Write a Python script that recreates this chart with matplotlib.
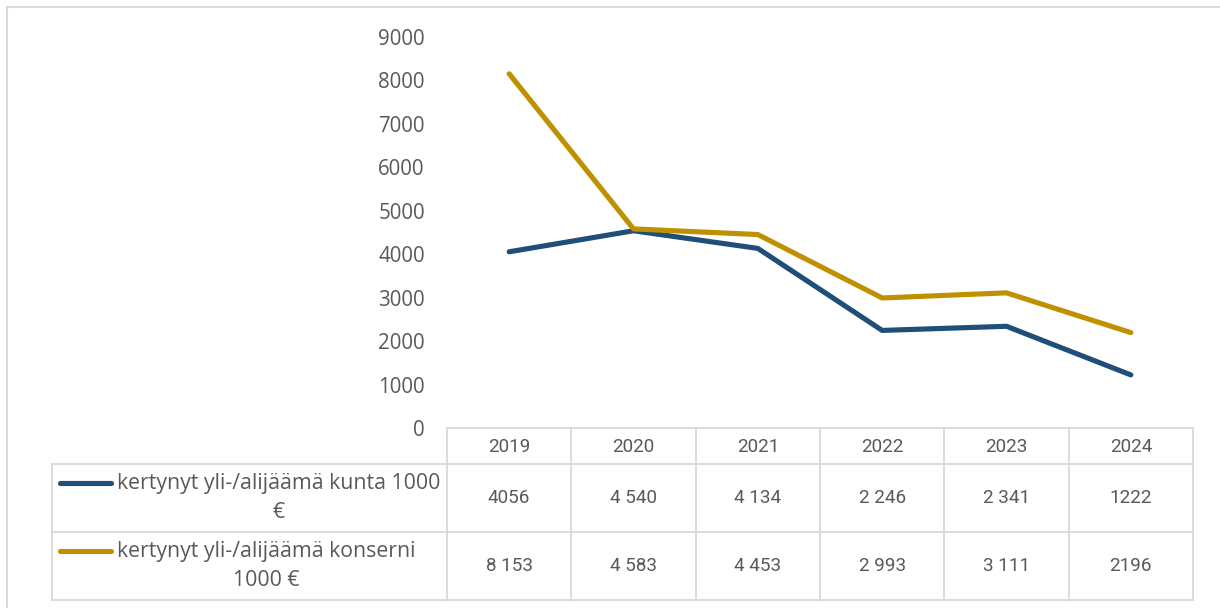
import matplotlib.pyplot as plt
from matplotlib.lines import Line2D
from matplotlib.transforms import blended_transform_factory

years = ['2019', '2020', '2021', '2022', '2023', '2024']
kunta = [4056, 4540, 4134, 2246, 2341, 1222]
konserni = [8153, 4583, 4453, 2993, 3111, 2196]
kunta_labels = ['4056', '4 540', '4 134', '2 246', '2 341', '1222']
konserni_labels = ['8 153', '4 583', '4 453', '2 993', '3 111', '2196']
series_names = ['kertynyt yli-/alijäämä kunta 1000\n€',
                'kertynyt yli-/alijäämä konserni\n1000 €']
y_ticks = [0, 1000, 2000, 3000, 4000, 5000, 6000, 7000, 8000, 9000]

colors = ['#1f4e79', '#bf9000']
text_col = '#595959'
grid_col = '#d9d9d9'

W, H = 1220, 608
fig = plt.figure(figsize=(W / 100, H / 100), dpi=100, facecolor='w')


def fx(px):
    return px / W


def fy(py):
    return 1 - py / H


ax = fig.add_axes([fx(447), fy(428), fx(1193) - fx(447), fy(37) - fy(428)])
x = list(range(len(years)))
ax.plot(x, kunta, color=colors[0], lw=3.7, solid_capstyle='round', solid_joinstyle='round')
ax.plot(x, konserni, color=colors[1], lw=3.7, solid_capstyle='round', solid_joinstyle='round')
ax.set_xlim(-0.5, len(years) - 0.5)
ax.set_ylim(0, 9000)
ax.set_yticks(y_ticks)
ax.set_yticklabels([str(v) for v in y_ticks], fontsize=14.8, fontfamily='Open Sans', color=text_col)
ax.tick_params(axis='y', length=0, pad=16)
ax.set_xticks([])
for s in ax.spines.values():
    s.set_visible(False)

# outer chart border (top and left visible)
fig.add_artist(Line2D([fx(7), 1], [fy(7), fy(7)], color=grid_col, lw=1.5))
fig.add_artist(Line2D([fx(7), fx(7)], [fy(7), 0], color=grid_col, lw=1.5))

# data table
tr = blended_transform_factory(ax.transData, fig.transFigure)
row_y = [428, 464, 532, 600]
left_px = 52
lw_t = 1.3
num_font = dict(fontsize=13.6, fontfamily='Roboto', color=text_col, ha='center', va='center')

# horizontal lines
fig.add_artist(Line2D([fx(447), fx(1193)], [fy(row_y[0])] * 2, color=grid_col, lw=lw_t))
for ry in row_y[1:]:
    fig.add_artist(Line2D([fx(left_px), fx(1193)], [fy(ry)] * 2, color=grid_col, lw=lw_t))
# vertical lines
fig.add_artist(Line2D([fx(left_px)] * 2, [fy(row_y[1]), fy(row_y[3])], color=grid_col, lw=lw_t))
for i in range(len(years) + 1):
    fig.add_artist(Line2D([i - 0.5, i - 0.5], [fy(row_y[0]), fy(row_y[3])],
                          color=grid_col, lw=lw_t, transform=tr))

# header and values
for i, yr in enumerate(years):
    fig.text(i, fy(447), yr, transform=tr, **num_font)
    fig.text(i, fy(498), kunta_labels[i], transform=tr, **num_font)
    fig.text(i, fy(566), konserni_labels[i], transform=tr, **num_font)

# row labels with legend keys
for k, name in enumerate(series_names):
    top = row_y[k + 1]
    key_y = fy(top + 19)
    fig.add_artist(Line2D([fx(60), fx(111)], [key_y, key_y], color=colors[k], lw=3.7,
                          solid_capstyle='round'))
    fig.text(fx(117), fy(top + 34), name, ha='left', va='center', multialignment='center',
             linespacing=1.5, fontsize=15.3, fontfamily='Open Sans', color=text_col)

fig.savefig('out.png', dpi=100)
